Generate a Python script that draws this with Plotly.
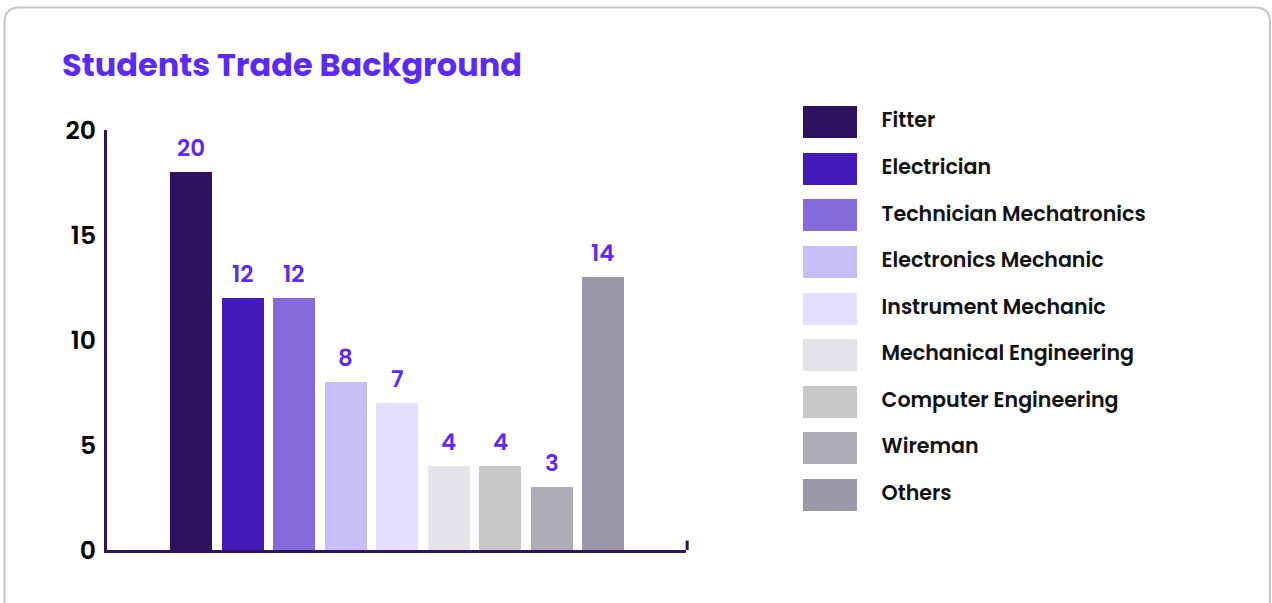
import plotly.graph_objects as go

# data
trades = [
    "Fitter",
    "Electrician",
    "Technician Mechatronics",
    "Electronics Mechanic",
    "Instrument Mechanic",
    "Mechanical Engineering",
    "Computer Engineering",
    "Wireman",
    "Others",
]
bar_heights = [18, 12, 12, 8, 7, 4, 4, 3, 13]
bar_labels = ["20", "12", "12", "8", "7", "4", "4", "3", "14"]
colors = [
    "#2e1260", "#441abb", "#836bd9", "#c7bef8", "#e4dffe",
    "#e4e3e8", "#c8c8c8", "#aeadb5", "#9b99a8",
]
y_ticks = [0, 5, 10, 15, 20]

W, H = 1272, 603
ML, MR, MT, MB = 107, 12, 97, 53
PW, PH = W - ML - MR, H - MT - MB


def px(x):
    return (x - ML) / PW


def py(y):
    return (H - MB - y) / PH


FONT = "Poppins, Inter, sans-serif"
INK = "#2d1460"
ACCENT = "#5b2bf5"

fig = go.Figure()

fig.add_trace(
    go.Bar(
        x=trades,
        y=bar_heights,
        marker=dict(color=colors, line=dict(width=0)),
        width=0.815,
        hoverinfo="skip",
        showlegend=False,
    )
)

# legend drawn on its own axes
fig.add_trace(
    go.Bar(
        x=[1] * len(trades),
        y=trades,
        base=0,
        orientation="h",
        width=0.687,
        marker=dict(color=colors, line=dict(width=0)),
        xaxis="x2",
        yaxis="y2",
        hoverinfo="skip",
        showlegend=False,
    )
)
fig.add_trace(
    go.Scatter(
        x=[1.455] * len(trades),
        y=trades,
        mode="text",
        text=trades,
        textposition="middle right",
        textfont=dict(family=FONT, size=20.6, color="#111111", weight=600),
        xaxis="x2",
        yaxis="y2",
        hoverinfo="skip",
        showlegend=False,
    )
)

for t, h, lab in zip(trades, bar_heights, bar_labels):
    fig.add_annotation(
        x=t, y=h, text=lab, showarrow=False,
        yanchor="middle", yshift=24,
        font=dict(family=FONT, size=23, color=ACCENT, weight=600),
    )

# card border
x0, x1, y0, y1, r = 4.5, 1270, 7.5, 640, 15
card = (
    f"M {px(x0)},{py(y0 + r)} "
    f"Q {px(x0)},{py(y0)} {px(x0 + r)},{py(y0)} "
    f"L {px(x1 - r)},{py(y0)} "
    f"Q {px(x1)},{py(y0)} {px(x1)},{py(y0 + r)} "
    f"L {px(x1)},{py(y1)} L {px(x0)},{py(y1)} Z"
)
fig.add_shape(type="path", path=card, xref="paper", yref="paper",
              line=dict(color="#c6c6c6", width=2), layer="below")

# small end tick on the x axis
fig.add_shape(type="line", xref="x domain", yref="y",
              x0=1.002, x1=1.002, y0=0, y1=0.45,
              line=dict(color=INK, width=3))

fig.update_layout(
    width=W,
    height=H,
    margin=dict(l=ML, r=MR, t=MT, b=MB),
    paper_bgcolor="white",
    plot_bgcolor="white",
    font=dict(family=FONT),
    title=dict(
        text="Students Trade Background",
        xref="container", yref="container",
        x=62 / W, y=1 - 65 / H,
        xanchor="left", yanchor="middle",
        font=dict(family=FONT, size=32, color=ACCENT, weight="bold"),
    ),
    xaxis=dict(
        domain=[0, px(686)],
        range=[-1.631, 9.61],
        showticklabels=False,
        showgrid=False,
        zeroline=False,
        showline=True,
        linecolor=INK,
        linewidth=3,
        ticks="",
    ),
    yaxis=dict(
        domain=[0, py(130)],
        range=[0, 20],
        tickvals=y_ticks,
        showgrid=False,
        zeroline=False,
        showline=True,
        linecolor=INK,
        linewidth=3,
        ticks="",
        ticklabelstandoff=3,
        tickfont=dict(family=FONT, size=25, color="#000000", weight=600),
    ),
    xaxis2=dict(
        domain=[px(803), 1],
        range=[0, 8.463],
        visible=False,
        anchor="y2",
    ),
    yaxis2=dict(
        domain=[py(518.1), py(99.0)],
        range=[8.5, -0.5],
        type="category",
        visible=False,
        anchor="x2",
    ),
    bargap=0,
)

# drop the page margin so the chart sits at the window's corner
fig.write_html(
    "out.html",
    config={"displayModeBar": False},
    post_script="document.body.style.margin='0';",
)
